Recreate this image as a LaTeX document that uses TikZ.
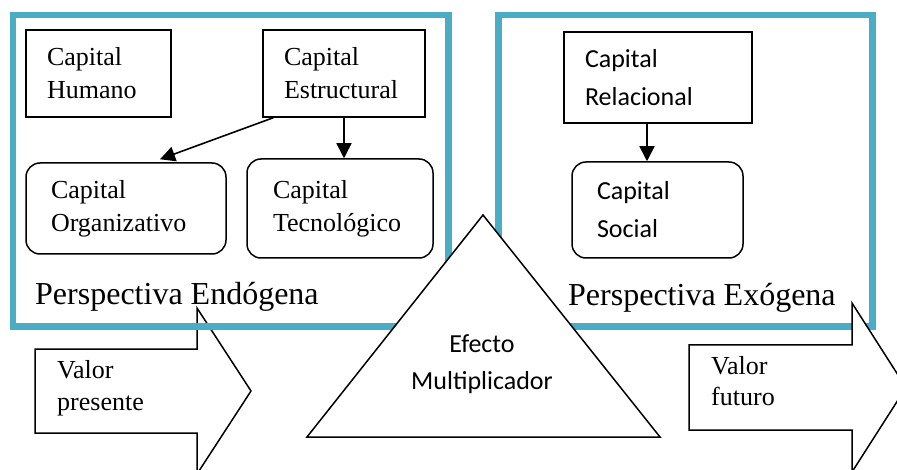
\documentclass[tikz,border=0pt]{standalone}
\usepackage{fontspec}
\setmainfont{Liberation Serif}
\newfontfamily\calibri{Carlito}
\usetikzlibrary{arrows.meta}
\definecolor{frameteal}{RGB}{75,172,198}

\begin{document}
\begin{tikzpicture}[x=1pt,y=-1pt,
  capbox/.style={draw,line width=1.5pt,align=left,inner ysep=0pt,font=\fontsize{26}{33}\selectfont},
  roundcap/.style={capbox,rounded corners=14pt},
  sanscap/.style={font=\calibri\fontsize{26}{38}\selectfont},
  link/.style={line width=1.6pt,-{Triangle[length=15pt,width=15pt]}},
  frame/.style={draw=frameteal,line width=6.5pt},
  bigshape/.style={draw,fill=white,line width=1.5pt,line join=miter}]
\useasboundingbox (0,0) rectangle (897,470);
\clip (0,0) rectangle (897,470);

% valor presente arrow, under the frames
\draw[bigshape] (35,349) -- (197,349) -- (197,308) -- (251,391) -- (197,474)
  -- (197,433) -- (35,433) -- cycle;
\node[align=left,anchor=west,inner sep=0pt,font=\fontsize{26}{32}\selectfont] (presente) at (57,388) {Valor\\presente};

% the two perspectives
\draw[frame] (13,15) rectangle (448.5,326.5);
\draw[frame] (498.5,15) rectangle (872.5,326.5);

% endogenous capitals
\node[capbox,minimum height=87pt,text width=103pt,inner xsep=21pt] (humano) at (98.5,73.5) {Capital\\Humano};
\node[capbox,minimum height=87pt,text width=120pt,inner xsep=21pt] (estructural) at (344,73.5) {Capital\\Estructural};
\node[roundcap,minimum height=91pt,text width=150pt,inner xsep=25pt] (organizativo) at (126,208.5) {Capital\\Organizativo};
\node[roundcap,minimum height=99pt,text width=134pt,inner xsep=26pt] (tecnologico) at (340,208.5) {Capital\\Tecnológico};
\draw[link] ([xshift=11pt]estructural.south west) -- ([xshift=34pt,yshift=3pt]organizativo.north);
\draw[link] (estructural.south) -- (estructural.south |- tecnologico.north);
\node[anchor=base west,inner sep=0pt,font=\fontsize{32}{38}\selectfont] (endogena) at (35,305) {Perspectiva Endógena};

% exogenous capitals
\node[capbox,sanscap,minimum height=91pt,text width=146pt,inner xsep=21pt] (relacional) at (658,77.5) {Capital\\Relacional};
\node[roundcap,sanscap,minimum height=96pt,text width=121pt,inner xsep=25pt] (social) at (657.5,210) {Capital\\Social};
\draw[link] ([xshift=-11pt]relacional.south) -- ([xshift=-11pt]relacional.south |- social.north);
\node[anchor=base west,inner sep=0pt,font=\fontsize{32}{38}\selectfont] (exogena) at (568,306) {Perspectiva Exógena};

% multiplier triangle and valor futuro arrow on top
\draw[bigshape] (483,215) -- (660,437) -- (307,437) -- cycle;
\node[sanscap,align=center,inner sep=0pt,font=\calibri\fontsize{26}{37}\selectfont] (efecto) at (482,364.5) {Efecto\\Multiplicador};
\draw[bigshape] (689,345) -- (852,345) -- (852,303) -- (906,387.5) -- (852,472)
  -- (852,430) -- (689,430) -- cycle;
\node[align=left,anchor=west,inner sep=0pt,font=\fontsize{26}{31}\selectfont] (futuro) at (711,381.6) {Valor\\futuro};
\end{tikzpicture}
\end{document}
